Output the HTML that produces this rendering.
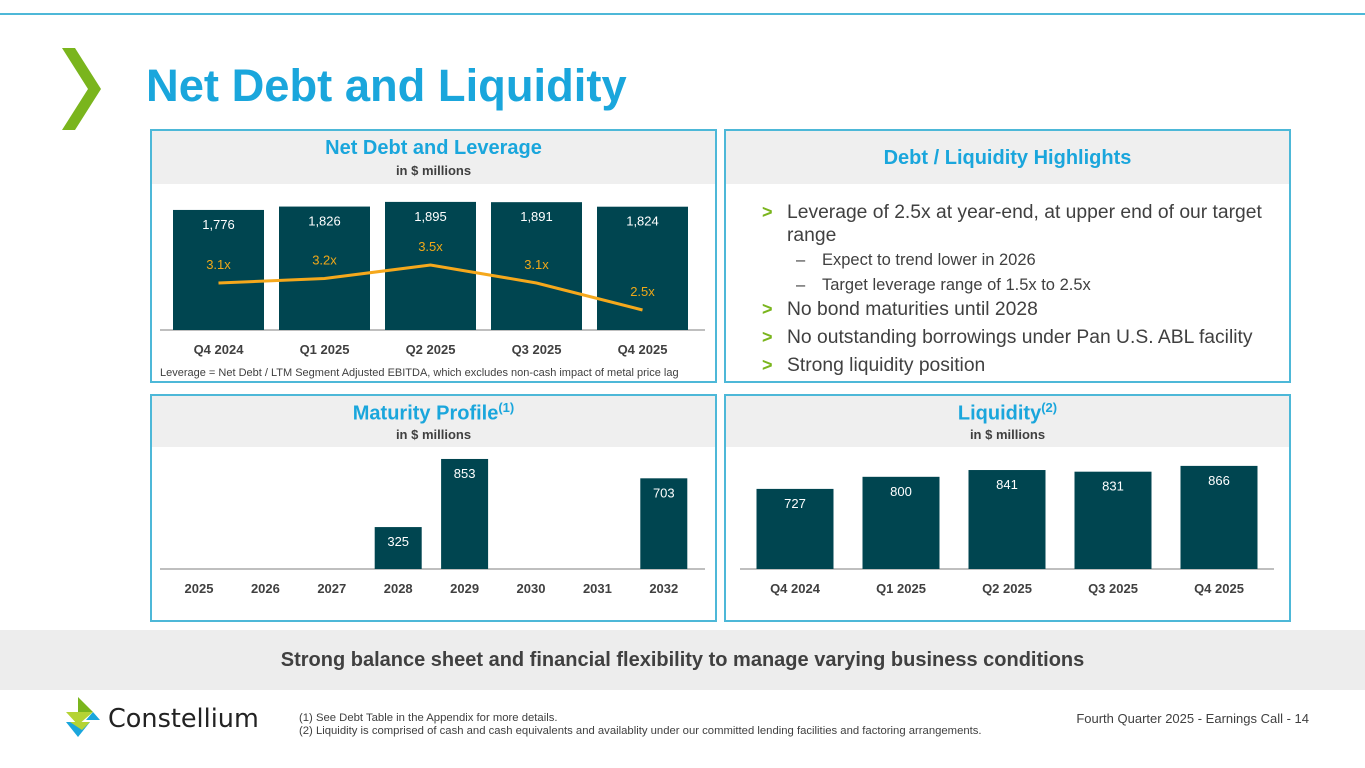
<!DOCTYPE html>
<html><head><meta charset="utf-8"><style>
*{margin:0;padding:0;box-sizing:border-box}
body{width:1365px;height:768px;position:relative;background:#fff;font-family:"Liberation Sans",Arial,sans-serif;overflow:hidden}
.abs{position:absolute}
.panel{position:absolute;border:2px solid #4db8d8;background:#fff}
.hdr{position:absolute;left:0;right:0;top:0;background:#efefef;text-align:center}
.ht{color:#1aa6dc;font-weight:bold;font-size:20px}
.hs{color:#404040;font-weight:bold;font-size:13px}
.bl{position:absolute;font-size:19.3px;color:#404040;line-height:21px;white-space:nowrap}
.gt{color:#7ab51d;font-weight:bold;position:absolute;left:-25px;font-size:18px}
.sub{position:absolute;font-size:16.5px;color:#404040;white-space:nowrap;line-height:20px}
.dash{position:absolute;left:-26px}
svg{position:absolute;left:0;top:0}
</style></head><body>
<div class="abs" style="left:0;top:13px;width:1365px;height:2px;background:#4db8d8"></div>
<svg width="1365" height="768" style="z-index:0">
<polygon points="62,48 75,48 101,89 75,130 62,130 88,89" fill="#7ab51d"/>
</svg>
<div class="abs" style="left:146px;top:60px;font-size:45.3px;font-weight:bold;color:#1aa6dc">Net Debt and Liquidity</div>

<div class="panel" style="left:150px;top:129px;width:567px;height:254px">
 <div class="hdr" style="height:53px"><div class="ht" style="margin-top:6px">Net Debt and Leverage</div><div class="hs" style="margin-top:3px">in $ millions</div></div>
 <div class="abs" style="left:8px;top:236px;font-size:11px;color:#404040">Leverage = Net Debt / LTM Segment Adjusted EBITDA, which excludes non-cash impact of metal price lag</div>
</div>
<div class="panel" style="left:724px;top:129px;width:567px;height:254px">
 <div class="hdr" style="height:53px"><div class="ht" style="margin-top:16px">Debt / Liquidity Highlights</div></div>
 <div class="bl" style="left:61px;top:70px;line-height:23px"><span class="gt">&gt;</span>Leverage of 2.5x at year-end, at upper end of our target<br>range</div>
 <div class="sub" style="left:96px;top:119px"><span class="dash">–</span>Expect to trend lower in 2026</div>
 <div class="sub" style="left:96px;top:144px"><span class="dash">–</span>Target leverage range of 1.5x to 2.5x</div>
 <div class="bl" style="left:61px;top:168px"><span class="gt">&gt;</span>No bond maturities until 2028</div>
 <div class="bl" style="left:61px;top:196px"><span class="gt">&gt;</span>No outstanding borrowings under Pan U.S. ABL facility</div>
 <div class="bl" style="left:61px;top:224px"><span class="gt">&gt;</span>Strong liquidity position</div>
</div>
<div class="panel" style="left:150px;top:394px;width:567px;height:228px">
 <div class="hdr" style="height:51px"><div class="ht" style="margin-top:4px">Maturity Profile<sup style="font-size:13px">(1)</sup></div><div class="hs" style="margin-top:1px">in $ millions</div></div>
</div>
<div class="panel" style="left:724px;top:394px;width:567px;height:228px">
 <div class="hdr" style="height:51px"><div class="ht" style="margin-top:4px">Liquidity<sup style="font-size:13px">(2)</sup></div><div class="hs" style="margin-top:1px">in $ millions</div></div>
</div>
<div class="abs" style="left:0;top:630px;width:1365px;height:60px;background:#ededed;text-align:center;font-size:20px;font-weight:bold;color:#404040;line-height:60px">Strong balance sheet and financial flexibility to manage varying business conditions</div>

<svg width="1365" height="768">
<polygon points="78,697 93,712 78,712" fill="#7ab51d"/><polygon points="66,712 93,712 78,725" fill="#b5d334"/>
<polygon points="93,712 100,720 86,720" fill="#1aa6dc"/><polygon points="66,722 90,722 78,737" fill="#1aa6dc"/><polygon points="70,722 90,722 82,730" fill="#b5d334"/>
<text x="108" y="727" font-family="DejaVu Sans,sans-serif" font-size="25.5" fill="#222">Constellium</text>
</svg>
<div class="abs" style="left:299px;top:712px;font-size:11.3px;color:#404040;line-height:13px">(1) See Debt Table in the Appendix for more details.<br>(2) Liquidity is comprised of cash and cash equivalents and availablity under our committed lending facilities and factoring arrangements.</div>
<div class="abs" style="right:56px;top:711px;font-size:13px;color:#404040">Fourth Quarter 2025 - Earnings Call - 14</div>

<svg id="charts" width="1365" height="768"></svg>
<script>
const ndCats=["Q4 2024","Q1 2025","Q2 2025","Q3 2025","Q4 2025"];
const ndValues=[1776,1826,1895,1891,1824];
const ndLabels=["1,776","1,826","1,895","1,891","1,824"];
const levValues=[3.1,3.2,3.5,3.1,2.5];
const levLabels=["3.1x","3.2x","3.5x","3.1x","2.5x"];
const matCats=["2025","2026","2027","2028","2029","2030","2031","2032"];
const matValues=[0,0,0,325,853,0,0,703];
const liqCats=["Q4 2024","Q1 2025","Q2 2025","Q3 2025","Q4 2025"];
const liqValues=[727,800,841,831,866];

const S="http://www.w3.org/2000/svg", svg=document.getElementById('charts');
function mk(t,a,txt){const e=document.createElementNS(S,t);for(const k in a)e.setAttribute(k,a[k]);if(txt!==undefined)e.textContent=txt;svg.appendChild(e);return e;}
const BAR="#004550",TXT="#404040";
function axis(x0,x1,y){const l=mk('line',{x1:x0,x2:x1,y1:y,y2:y,stroke:'#aaa','stroke-width':1.5});

}
// Net debt chart
(function(){const base=330,x0=173,step=106,bw=91,ys=v=>base-v*0.0676,ly=v=>265+(3.5-v)*45;
axis(160,705,base);
ndCats.forEach((c,i)=>{const cx=x0+step*i+bw/2;const y=ys(ndValues[i]);
const r=mk('rect',{x:cx-bw/2,y:y,width:bw,height:base-y,fill:BAR});


const t=mk('text',{x:cx,y:y+19,'text-anchor':'middle','font-size':13,fill:'#fff'},ndLabels[i]);


const xl=mk('text',{x:cx,y:354,'text-anchor':'middle','font-size':13,'font-weight':'bold',fill:TXT},c);

});
const pts=levValues.map((v,i)=>(x0+step*i+bw/2)+','+ly(v)).join(' ');
const pl=mk('polyline',{points:pts,fill:'none',stroke:'#f5a81c','stroke-width':3});


levValues.forEach((v,i)=>{const t=mk('text',{x:x0+step*i+bw/2,y:ly(v)-14,'text-anchor':'middle','font-size':13,fill:'#f0a818'},levLabels[i]);

});})();
// Maturity chart
(function(){const base=569,x0=199,step=66.4,bw=47,ys=v=>base-v*0.129;
axis(160,705,base);
matCats.forEach((c,i)=>{const cx=x0+step*i;const v=matValues[i];
if(v>0){const y=ys(v);const r=mk('rect',{x:cx-bw/2,y:y,width:bw,height:base-y,fill:BAR});


const t=mk('text',{x:cx,y:y+19,'text-anchor':'middle','font-size':13,fill:'#fff'},String(v));

}
const xl=mk('text',{x:cx,y:593,'text-anchor':'middle','font-size':13,'font-weight':'bold',fill:TXT},c);

});})();
// Liquidity chart
(function(){const base=569,x0=795,step=106,bw=77,ys=v=>base-(v-243)*0.1655;
axis(740,1274,base);
liqCats.forEach((c,i)=>{const cx=x0+step*i;const y=ys(liqValues[i]);
const r=mk('rect',{x:cx-bw/2,y:y,width:bw,height:base-y,fill:BAR});


const t=mk('text',{x:cx,y:y+19,'text-anchor':'middle','font-size':13,fill:'#fff'},String(liqValues[i]));


const xl=mk('text',{x:cx,y:593,'text-anchor':'middle','font-size':13,'font-weight':'bold',fill:TXT},c);

});})();
</script>
</body></html>
